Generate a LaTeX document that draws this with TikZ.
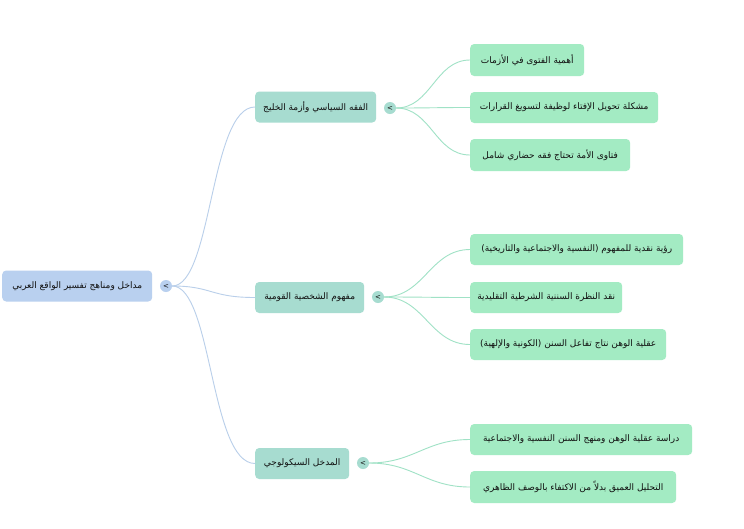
\documentclass[tikz,border=0pt]{standalone}
\usepackage{fontspec}
\TeXXeTstate=1
\newfontfamily\arabicfont[Script=Arabic]{DejaVu Sans}
\setmainfont{DejaVu Sans}
\definecolor{rootfill}{HTML}{B9D0EF}
\definecolor{branchfill}{HTML}{A7DCD0}
\definecolor{leaffill}{HTML}{A3EBC3}
\definecolor{rootline}{HTML}{B9CFEA}
\definecolor{leafline}{HTML}{A0E2C6}
\definecolor{txt}{HTML}{111111}
\newcommand{\ar}[1]{\arabicfont\beginR #1\endR}
\begin{document}
\begin{tikzpicture}[x=1pt,y=-1pt,
  box/.style={rectangle,rounded corners=4pt,anchor=west,inner sep=0pt,
    minimum height=31pt,font=\fontsize{9}{11}\selectfont,text=txt},
  rootbox/.style={box,fill=rootfill},
  branchbox/.style={box,fill=branchfill},
  leafbox/.style={box,fill=leaffill},
  toggle/.style={circle,minimum size=12pt,inner sep=0pt,font=\fontsize{7}{7}\selectfont,text=txt},
  rootconn/.style={draw=rootline,line width=0.9pt},
  leafconn/.style={draw=leafline,line width=0.9pt}]
\useasboundingbox (0,0) rectangle (744,528);
\fill[white] (0,0) rectangle (744,528);
% root
\node[rootbox,minimum width=150pt] (root) at (2,286) {\ar{مداخل ومناهج تفسير الواقع العربي}};
\node[toggle,fill=rootfill] (rc) at (166,286) {<};
% branches
\node[branchbox,minimum width=121pt] (b1) at (255,107) {\ar{الفقه السياسي وأزمة الخليج}};
\node[toggle,fill=branchfill] (c1) at (390,108) {<};
\node[branchbox,minimum width=109pt] (b2) at (255,297.5) {\ar{مفهوم الشخصية القومية}};
\node[toggle,fill=branchfill] (c2) at (378,297) {<};
\node[branchbox,minimum width=94pt] (b3) at (255,463.5) {\ar{المدخل السيكولوجي}};
\node[toggle,fill=branchfill] (c3) at (363,463) {<};
% leaves
\node[leafbox,minimum width=114pt,minimum height=32pt] (l1) at (470,60) {\ar{أهمية الفتوى في الأزمات}};
\node[leafbox,minimum width=188pt] (l2) at (470,107.5) {\ar{مشكلة تحويل الإفتاء لوظيفة لتسويغ القرارات}};
\node[leafbox,minimum width=160pt,minimum height=32pt] (l3) at (470,155) {\ar{فتاوى الأمة تحتاج فقه حضاري شامل}};
\node[leafbox,minimum width=213pt] (l4) at (470,249.5) {\ar{رؤية نقدية للمفهوم (النفسية والاجتماعية والتاريخية)}};
\node[leafbox,minimum width=152pt] (l5) at (470,297.5) {\ar{نقد النظرة السننية الشرطية التقليدية}};
\node[leafbox,minimum width=196pt] (l6) at (470,344.5) {\ar{عقلية الوهن نتاج تفاعل السنن (الكونية والإلهية)}};
\node[leafbox,minimum width=222pt] (l7) at (470,439.5) {\ar{دراسة عقلية الوهن ومنهج السنن النفسية والاجتماعية}};
\node[leafbox,minimum width=206pt,minimum height=32pt] (l8) at (470,487) {\ar{التحليل العميق بدلاً من الاكتفاء بالوصف الظاهري}};
% connectors root -> branches
\foreach \b in {b1,b2,b3}
  \draw[rootconn] (rc.east) .. controls +(40,0) and +(-45,0) .. (\b.west);
% branch -> leaves
\foreach \l in {l1,l2,l3}
  \draw[leafconn] (c1.east) .. controls +(35,0) and +(-35,0) .. (\l.west);
\foreach \l in {l4,l5,l6}
  \draw[leafconn] (c2.east) .. controls +(40,0) and +(-40,0) .. (\l.west);
\foreach \l in {l7,l8}
  \draw[leafconn] (c3.east) .. controls +(45,0) and +(-45,0) .. (\l.west);
\end{tikzpicture}
\end{document}
